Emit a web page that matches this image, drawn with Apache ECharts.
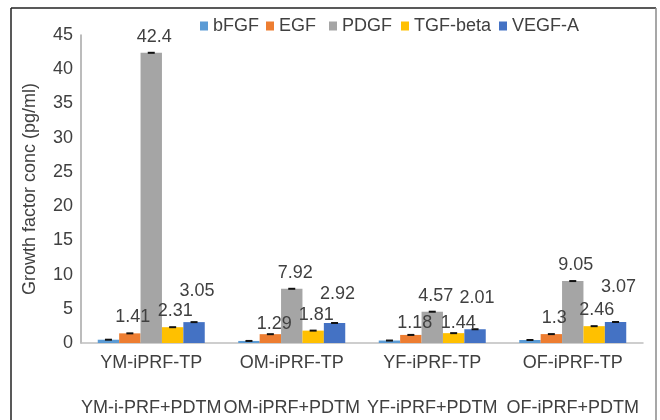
<!DOCTYPE html>
<html>
<head>
<meta charset="utf-8">
<script src="https://cdn.jsdelivr.net/npm/echarts@6/dist/echarts.min.js"></script>
<style>
html,body{margin:0;padding:0;background:#fff;}
#chart{width:660px;height:420px;}
</style>
</head>
<body>
<div id="chart"></div>
<script>
// ---- data ----
const categories = ['YM-iPRF-TP', 'OM-iPRF-TP', 'YF-iPRF-TP', 'OF-iPRF-TP'];
const groupLabels = ['YM-i-PRF+PDTM', 'OM-iPRF+PDTM', 'YF-iPRF+PDTM', 'OF-iPRF+PDTM'];
const seriesNames = ['bFGF', 'EGF', 'PDGF', 'TGF-beta', 'VEGF-A'];
const bFGF = [0.48, 0.3, 0.36, 0.44];
const EGF = [1.41, 1.29, 1.18, 1.3];
const PDGF = [42.4, 7.92, 4.57, 9.05];
const TGFbeta = [2.31, 1.81, 1.44, 2.46];
const VEGFA = [3.05, 2.92, 2.01, 3.07];
const yTicks = [0, 5, 10, 15, 20, 25, 30, 35, 40, 45];
// which bars carry a value label
const showLabel = [false, true, true, true, true];

// ---- style ----
const colors = ['#5B9BD5', '#ED7D31', '#A5A5A5', '#FFC000', '#4472C4'];
const values = [bFGF, EGF, PDGF, TGFbeta, VEGFA];
// label nudges [dx, dy] per series per category (layout only)
const labelNudge = [
  [[0,0],[0,0],[0,0],[0,0]],
  [[3,0],[4,5.5],[4,4.5],[3,0]],
  [[3,0],[3.5,0],[3.5,0],[3,0]],
  [[2.5,0],[3,0],[4.5,5.5],[2.5,0]],
  [[3,-15.5],[3,-13],[2,-15.5],[3,-18.5]]
];
// legend item left positions (layout only)
const legendLeft = [200, 266, 329, 401, 499];
const FONT = "'Liberation Sans', Arial, sans-serif";
const TXT = '#404040';
const BW = 21.4;

const chart = echarts.init(document.getElementById('chart'), null, {renderer: 'canvas'});

const series = [];
seriesNames.forEach((name, si) => {
  series.push({
    name: name,
    type: 'bar',
    xAxisIndex: 0,
    barWidth: BW,
    barGap: '0%',
    itemStyle: {color: colors[si]},
    data: values[si].map((v, ci) => ({
      value: v,
      label: {
        show: showLabel[si],
        position: 'top',
        distance: 7,
        offset: labelNudge[si][ci],
        fontSize: 18,
        fontFamily: FONT,
        color: TXT
      }
    })),
    z: 2
  });
});
// error bar caps
seriesNames.forEach((name, si) => {
  series.push({
    type: 'custom',
    xAxisIndex: 0,
    silent: true,
    z: 5,
    data: values[si].map((v, ci) => [ci, v]),
    renderItem: function (params, api) {
      const p = api.coord([api.value(0), api.value(1)]);
      const x = p[0] + (si - 2) * BW;
      return {
        type: 'line',
        shape: {x1: x - 3.5, y1: p[1], x2: x + 3.5, y2: p[1]},
        style: {stroke: '#111', lineWidth: 2}
      };
    }
  });
});

const legends = seriesNames.map((name, si) => ({
  data: [name],
  left: legendLeft[si],
  top: 17,
  icon: 'rect',
  itemWidth: 8,
  itemHeight: 9,
  itemGap: 0,
  padding: 0,
  textStyle: {fontSize: 18, fontFamily: FONT, color: TXT}
}));

chart.setOption({
  animation: false,
  backgroundColor: '#fff',
  textStyle: {fontFamily: FONT},
  graphic: [
    {type: 'line', shape: {x1: 11, y1: 8, x2: 656, y2: 8}, style: {stroke: '#222', lineWidth: 1.5}, z: 10},
    {type: 'line', shape: {x1: 11, y1: 8, x2: 11, y2: 420}, style: {stroke: '#222', lineWidth: 1.5}, z: 10},
    {type: 'line', shape: {x1: 656, y1: 8, x2: 656, y2: 420}, style: {stroke: '#8a8a8a', lineWidth: 1.5}, z: 10}
  ],
  legend: legends,
  grid: {left: 81, right: 17, top: 35, bottom: 77, containLabel: false},
  xAxis: [
    {
      type: 'category',
      data: categories,
      position: 'bottom',
      axisLine: {show: true, lineStyle: {color: '#BFBFBF', width: 1.5}},
      axisTick: {show: false},
      axisLabel: {interval: 0, fontSize: 18, fontFamily: FONT, color: TXT, margin: 11}
    },
    {
      type: 'category',
      data: groupLabels,
      position: 'bottom',
      gridIndex: 0,
      axisLine: {show: false},
      axisTick: {show: false},
      axisLabel: {interval: 0, fontSize: 18, fontFamily: FONT, color: TXT, margin: 56}
    }
  ],
  yAxis: {
    type: 'value',
    min: yTicks[0],
    max: yTicks[yTicks.length - 1],
    interval: yTicks[1] - yTicks[0],
    name: 'Growth factor conc (pg/ml)',
    nameLocation: 'middle',
    nameGap: 42,
    nameTextStyle: {fontSize: 18, fontFamily: FONT, color: TXT},
    axisLine: {show: true, lineStyle: {color: '#A6A6A6', width: 1.5}},
    axisTick: {show: false},
    splitLine: {show: false},
    axisLabel: {fontSize: 18, fontFamily: FONT, color: TXT, margin: 8}
  },
  series: series
});
</script>
</body>
</html>
